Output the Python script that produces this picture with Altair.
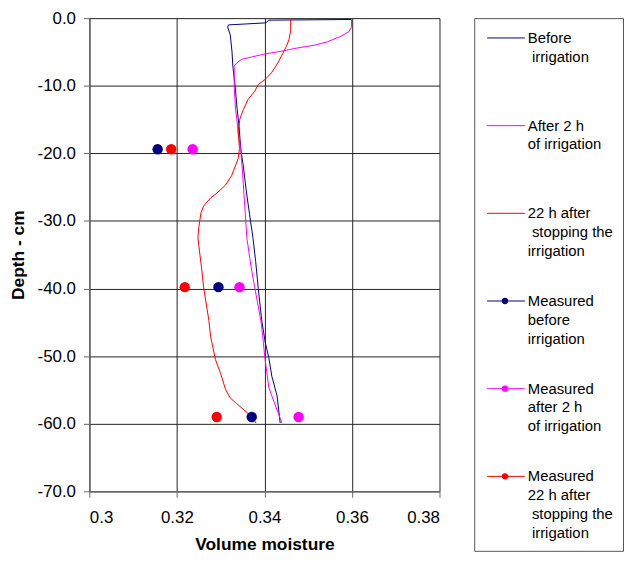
import altair as alt
import pandas as pd

# ---- data ----
series_names = [
    "Before irrigation",
    "After 2 h of irrigation",
    "22 h after stopping the irrigation",
    "Measured before irrigation",
    "Measured after 2 h of irrigation",
    "Measured 22 h after stopping the irrigation",
]
series_colors = ["#000080", "#FF00FF", "#FF0000", "#000080", "#FF00FF", "#FF0000"]
IND = "\u200b\u00a0"
legend_labels = [
    "Before|" + IND + "irrigation",
    "After 2 h|of irrigation",
    "22 h after|" + IND + "stopping the|irrigation",
    "Measured|before|irrigation",
    "Measured|after 2 h|of irrigation",
    "Measured|22 h after|" + IND + "stopping the|" + IND + "irrigation",
]

before_moist = [0.3600, 0.3598, 0.3410, 0.3403, 0.3318, 0.3316, 0.3322, 0.3326, 0.3328,
                0.3333, 0.3337, 0.3342, 0.3346, 0.3352, 0.3358, 0.3366, 0.3374, 0.3380,
                0.3386, 0.3394, 0.3402, 0.3410, 0.3417, 0.3429, 0.3436]
before_depth = [0.0, -0.2, -0.3, -0.7, -1.0, -1.3, -2.5, -5.0, -7.2,
                -10.0, -13.0, -16.0, -19.4, -22.0, -25.3, -29.0, -32.6, -36.0,
                -40.0, -44.8, -48.0, -50.2, -53.0, -55.9, -59.9]

after_moist = [0.3600, 0.3599, 0.3599, 0.3593, 0.3574, 0.3544, 0.3514, 0.3476, 0.3438,
               0.3401, 0.3367, 0.3348, 0.3337, 0.3331, 0.3331, 0.3334, 0.3337, 0.3340,
               0.3346, 0.3351, 0.3357, 0.3360, 0.3370, 0.3378, 0.3392, 0.3396, 0.3401,
               0.3410, 0.3417, 0.3440]
after_depth = [0.0, -0.2, -1.3, -2.0, -2.7, -3.5, -4.0, -4.4, -4.9,
               -5.3, -5.8, -6.1, -6.6, -7.1, -10.1, -13.5, -14.9, -17.0,
               -19.4, -23.8, -29.7, -32.6, -37.0, -39.9, -44.8, -47.0, -50.2,
               -54.6, -55.9, -59.9]

h22_moist = [0.3460, 0.3460, 0.3456, 0.3450, 0.3442, 0.3431, 0.3416, 0.3401, 0.3386,
             0.3378, 0.3363, 0.3352, 0.3344, 0.3340, 0.3343, 0.3340, 0.3325, 0.3311,
             0.3291, 0.3277, 0.3261, 0.3255, 0.3250, 0.3248, 0.3257, 0.3261, 0.3273,
             0.3277, 0.3288, 0.3300, 0.3311, 0.3322, 0.3336, 0.3370, 0.3381]
h22_depth = [0.0, -1.8, -3.2, -4.2, -5.2, -6.6, -8.1, -9.1, -9.8,
             -10.8, -12.0, -13.5, -14.9, -16.8, -19.3, -20.8, -23.3, -24.7,
             -25.9, -26.6, -27.8, -28.8, -31.0, -32.5, -37.3, -39.8, -44.7,
             -47.1, -50.5, -52.6, -54.9, -56.2, -57.0, -58.9, -59.9]

meas_depth = [-19.4, -39.8, -59.0]
meas_before = [0.3156, 0.3295, 0.3371]
meas_after = [0.3236, 0.3343, 0.3478]
meas_22h = [0.3187, 0.3218, 0.3291]

y_ticks = [0, -10, -20, -30, -40, -50, -60, -70]
x_ticks = [0.3, 0.32, 0.34, 0.36, 0.38]

# ---- tables ----
rows = []
for name, xs, ys in [(series_names[0], before_moist, before_depth),
                     (series_names[1], after_moist, after_depth),
                     (series_names[2], h22_moist, h22_depth)]:
    for i, (x, y) in enumerate(zip(xs, ys)):
        rows.append({"series": name, "i": i, "moisture": x, "depth": y})
lines_df = pd.DataFrame(rows)

prow = []
for name, xs in [(series_names[3], meas_before), (series_names[4], meas_after),
                 (series_names[5], meas_22h)]:
    for x, y in zip(xs, meas_depth):
        prow.append({"series": name, "moisture": x, "depth": y})
pts_df = pd.DataFrame(prow)

legend_df = pd.DataFrame({
    "series": series_names,
    "idx": list(range(len(series_names))),
    "label": legend_labels,
    "measured": [False, False, False, True, True, True],
})

color = alt.Color("series:N", scale=alt.Scale(domain=series_names, range=series_colors),
                  legend=None)

FONT = "Liberation Sans"

x_enc = alt.X("moisture:Q", scale=alt.Scale(domain=[0.3, 0.38], nice=False, zero=False),
              axis=alt.Axis(values=x_ticks, format=".2~f", title="Volume moisture",
                            tickSize=6, labelPadding=12, titlePadding=11))
y_enc = alt.Y("depth:Q", scale=alt.Scale(domain=[-70, 0], nice=False, zero=False),
              axis=alt.Axis(values=y_ticks, title="Depth - cm",
                            labelExpr="replace(format(datum.value, '.1f'), '\u2212', '-')",
                            tickSize=6, labelPadding=8, titlePadding=10))

lines = alt.Chart(lines_df).mark_line(strokeWidth=1, clip=False).encode(
    x=x_enc, y=y_enc, color=color, order=alt.Order("i:Q"))
points = alt.Chart(pts_df).mark_point(filled=True, size=110, opacity=1).encode(
    x="moisture:Q", y="depth:Q", color=color)

main = alt.layer(lines, points).properties(
    width=353, height=477, view=alt.ViewBackground(stroke="transparent"))

leg_y = alt.Y("idx:Q", scale=alt.Scale(domain=[-0.226, 5.849], reverse=True, nice=False,
                                       zero=False), axis=None)
leg_base = alt.Chart(legend_df)
leg_rule = leg_base.mark_rule(strokeWidth=1).encode(
    x=alt.value(13), x2=alt.value(51), y=leg_y, color=color)
leg_dot = leg_base.transform_filter("datum.measured").mark_point(
    filled=True, size=40, opacity=1).encode(x=alt.value(31), y=leg_y, color=color)
leg_text = leg_base.mark_text(align="left", baseline="alphabetic", dy=5, lineBreak="|",
                              lineHeight=19, fontSize=15, font=FONT, color="#000").encode(
    x=alt.value(54), y=leg_y, text="label:N")

legend = alt.layer(leg_rule, leg_dot, leg_text).properties(
    width=150, height=537, view=alt.ViewBackground(stroke="#555555", strokeWidth=1))

chart = alt.hconcat(main, legend, spacing=35, bounds="flush").properties(
    padding={"left": 0, "top": -2, "right": 0, "bottom": 0}
).configure_axis(
    grid=True, gridColor="#222222", gridWidth=1, gridOpacity=1,
    domainColor="#666666", tickColor="#666666", domainWidth=1.5,
    labelFont=FONT, labelFontSize=17, labelColor="#000",
    titleFont=FONT, titleFontSize=17.5, titleFontWeight="bold", titleColor="#000",
).configure_view(stroke="transparent")

chart.save("out.html", embed_options={"renderer": "svg", "actions": False})
